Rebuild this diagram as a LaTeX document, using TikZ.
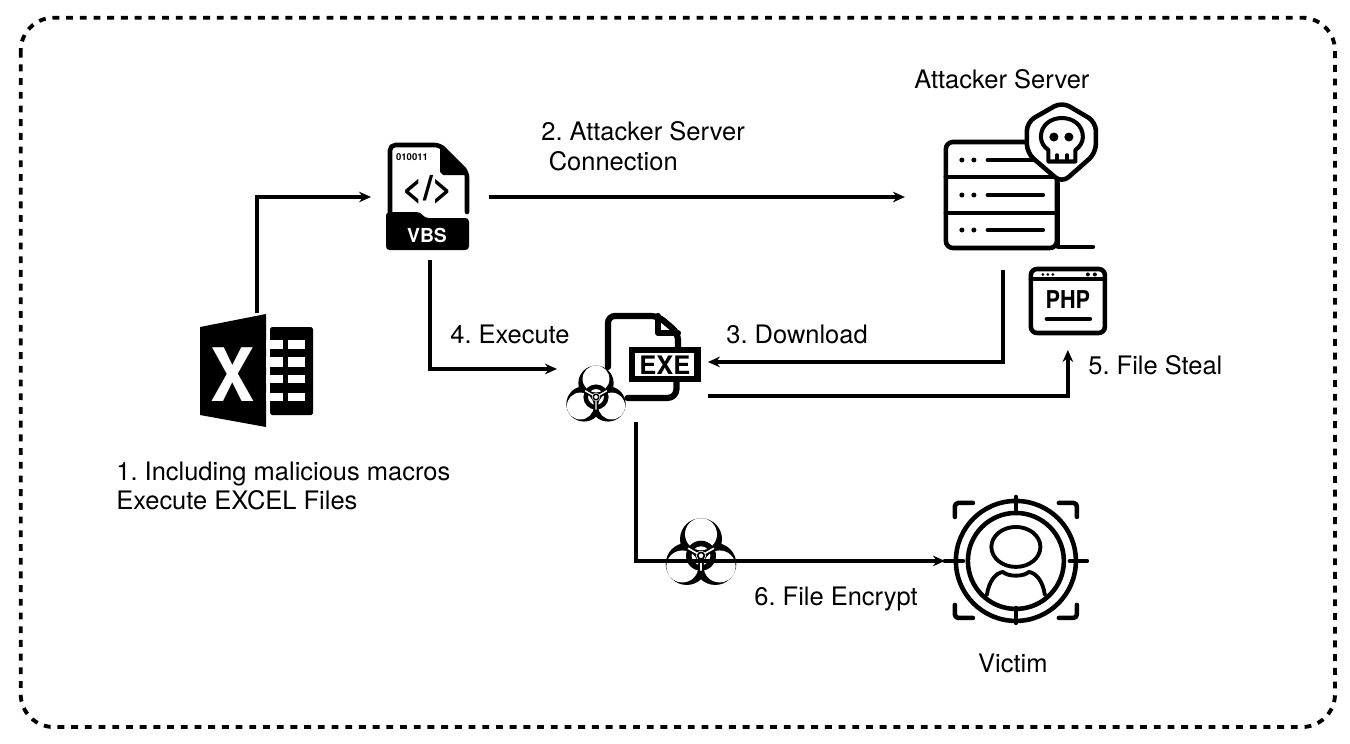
\documentclass[tikz,border=0pt]{standalone}
\usepackage{fontspec}
\setmainfont{TeX Gyre Heros}
\usetikzlibrary{arrows.meta, positioning}
\tikzstyle{iconbox} = [% invisible box around an icon
  rectangle,
  inner sep=0pt,
  outer sep=0pt
  ]
\tikzstyle{caption} = [% step label
  inner sep=0pt,
  align=left,
  font=\fontsize{14.5}{17}\selectfont\frenchspacing
  ]
\tikzstyle{arrow} = [% arrow format
  line width=2pt,
  ->,
  >={Stealth[length=6.8pt, width=6pt]}
  ]
\tikzstyle{frameline} = [% dashed outer frame
  line width=2.2pt,
  dash pattern=on 3.9pt off 3.9pt,
  rounded corners=0.66cm
  ]
\tikzstyle{iconline} = [% outline of the icons
  line width=2.6pt,
  line cap=round,
  line join=round
  ]
\tikzset{
  excelicon/.pic={
    \fill (-57,-43.5) -- (9,-56.5) -- (9,56.5) -- (-57,44.5) -- cycle;
    \fill[rounded corners=1pt] (13,-43.5) rectangle (56,44.5);
    \foreach \ya/\yb in {-30.5/-21.5, -13.5/-3.5, 4.5/12.5, 22.5/30.5} {
      \fill[white] (9,\ya) rectangle (26,\yb);
      \fill[white] (31,\ya) rectangle (48,\yb);
    }
    \node[inner sep=0pt, text=white] (letter) at (-24,4.5)
      {\fontsize{42}{42}\selectfont\bfseries\scalebox{.9}[1]{X}};
  },
  vbsicon/.pic={
    \draw[iconline, rounded corners=3pt] (-39,15) -- (-39,-52) -- (11,-52) -- (38,-25) -- (38,15);
    \fill[line join=round] (11,-52) -- (38,-25) -- (38,-22) -- (14,-22) -- (11,-25) -- cycle;
    \fill[rounded corners=2pt] (-43,53) -- (-43,15) -- (-9,15) -- (-4,21) -- (40,21) -- (40,53) -- cycle;
    \node[inner sep=0pt] (bits) at (-17,-40) {\fontsize{5.4}{6}\selectfont\bfseries 010011};
    \node[inner sep=0pt] (code) at (-1,-7) {\fontsize{20}{20}\selectfont\bfseries </>};
    \node[inner sep=0pt, text=white] (tag) at (-2,38) {\fontsize{11}{12}\selectfont\bfseries VBS};
  },
  servericon/.pic={
    \draw[iconline, rounded corners=4pt] (-57,-55) rectangle (54,51);
    \draw[iconline] (-57,-20) -- (54,-20) (-57,16) -- (54,16);
    \draw[iconline] (55,-14) -- (55,50) -- (90,50);
    \foreach \yr in {-37,-2,33} {
      \fill (-41,\yr) circle (2.5);
      \fill (-29,\yr) circle (2.5);
      \draw[iconline] (-15,\yr) -- (40,\yr);
    }
    \draw[iconline, fill=white, rounded corners=5pt]
      (59,-95) -- (93,-75) -- (93,-44) -- (59,-14) -- (24,-44) -- (24,-75) -- cycle;
    \draw[iconline, line width=2.3pt] (45.5,-35.5) -- (45.5,-47) .. controls (41,-50) and (38,-55) .. (38,-60)
      .. controls (38,-72) and (48,-79) .. (59,-79) .. controls (70,-79) and (80,-72) .. (80,-60)
      .. controls (80,-55) and (77,-50) .. (72.5,-47) -- (72.5,-35.5) -- cycle;
    \draw[iconline, line width=2pt] (54,-42) -- (54,-35.5) (64,-42) -- (64,-35.5);
    \fill (51,-60) circle (4.5);
    \fill (66,-60) circle (4.5);
  },
  phpicon/.pic={
    \draw[iconline, rounded corners=3.5pt] (-37,-32) rectangle (37,32);
    \draw[iconline] (-37,-22) -- (37,-22);
    \foreach \xd in {-25,-20,-15} \fill (\xd,-26.5) circle (1.6);
    \foreach \xd in {20,27} \fill (\xd,-26.5) circle (2);
    \node[inner sep=0pt] (tag) at (0,-1) {\fontsize{14}{15}\selectfont\bfseries\scalebox{.88}[1]{PHP}};
    \draw[iconline] (-21,18) -- (22,18);
  },
  exeicon/.pic={
    \draw[iconline, line width=3.5pt, rounded corners=4pt] (-24.5,-2) -- (-24.5,-53) -- (25.5,-53) -- (45.5,-36) -- (45.5,-19);
    \draw[iconline, line width=3.5pt] (25.5,-53) -- (25.5,-36) -- (45.5,-36);
    \draw[iconline, line width=3.5pt, rounded corners=5pt] (44,10) -- (44,29) -- (-5,29);
    \draw[line width=3.5pt, fill=white] (-0.5,-19) rectangle (65,10);
    \node[inner sep=0pt] (tag) at (32.5,-4) {\fontsize{14.5}{15}\selectfont\bfseries EXE};
  },
  biohazard/.pic={
    \foreach \ang in {-90,30,150} \fill (\ang:16.5) circle (21);
    \foreach \ang in {-90,30,150} \fill[white] (\ang:21.5) circle (16);
    \fill[even odd rule] (0,0) circle (15) circle (9.5);
    \foreach \ang in {90,-30,210} \fill[white] (\ang:3) -- ++(\ang+90:0.8) -- ++(\ang:12) -- ++(\ang-90:1.6) -- ++(\ang:-12) -- cycle;
    \fill[white] (0,0) circle (5);
    \fill[even odd rule] (0,0) circle (4.2) circle (2.4);
  },
  victimicon/.pic={
    \draw[iconline] (0,0) circle (60) (0,0) circle (48);
    \draw[iconline] (0,-64) -- (0,-48) (0,47) -- (0,62) (-71,0) -- (-53,0) (54,0) -- (71,0);
    \draw[iconline, rounded corners=2pt] (-61,-44) -- (-61,-58) -- (-43,-58);
    \draw[iconline, rounded corners=2pt] (61,-44) -- (61,-58) -- (43,-58);
    \draw[iconline, rounded corners=2pt] (-61,44) -- (-61,57) -- (-43,57);
    \draw[iconline, rounded corners=2pt] (61,44) -- (61,57) -- (43,57);
    \draw[iconline, line width=2.2pt] (0,-14) circle [x radius=24.5, y radius=20];
    \draw[iconline, line width=2.2pt] (-29,34) .. controls (-27,20) and (-20,12) .. (-13,11)
      .. controls (-8,16) and (8,16) .. (13,11) .. controls (20,12) and (27,20) .. (29,34);
  }
}

\begin{document}
\begin{tikzpicture}[x=0.02cm, y=-0.02cm]
\useasboundingbox (0,0) rectangle (1350,744);

%%% Frame
\draw[frameline] (20.7,17.7) rectangle (1335,727);

%%% Nodes
\node[iconbox, minimum width=2.28cm, minimum height=2.3cm] (excel) at (257,370.5) {};
\node[iconbox, minimum width=2.36cm, minimum height=2.52cm] (vbs) at (430,197) {};
\node[iconbox, minimum width=3.92cm, minimum height=2.92cm] (server) [right=11.46cm of vbs.center, anchor=center] {};
\node[iconbox, minimum width=3.02cm, minimum height=2.12cm] (exe) [below right=3.44cm and 4.05cm of vbs.center, anchor=center] {};
\node[iconbox, minimum width=1.6cm, minimum height=1.96cm] (php) [below right=2.08cm and 1.3cm of server.center, anchor=center] {};
\node[iconbox, minimum width=2.84cm, minimum height=2.6cm] (victim) [below right=3.84cm and 7.67cm of exe.center, anchor=center] {};
\coordinate (exein) at ([yshift=0.14cm]exe.east);
\coordinate (exeout) at ([yshift=-0.54cm]exe.east);
\coordinate (exebottom) at ([xshift=0.07cm]exe.south);

%%% Icons
\pic (excelpic) at (excel) {excelicon};
\pic (vbspic) at ([xshift=-0.02cm]vbs) {vbsicon};
\pic (serverpic) at (server) {servericon};
\pic (phppic) at (php) {phpicon};
\pic (exepic) at (exe) {exeicon};
\pic[scale=0.84] at (596,397) {biohazard};
\pic at (701,555.7) {biohazard};
\pic (victimpic) at (victim) {victimicon};

%%% Arrows
\draw[arrow] (excel.north) |- (vbs.west);
\draw[arrow] (vbs.east) -- (server.west);
\draw[arrow] (server.south) |- (exein);
\draw[arrow] (vbs.south) |- (exe.west);
\draw[arrow] (exeout) -| (php.south);
\draw[arrow] (exebottom) |- (victim.west);

%%% Labels
\node[caption, anchor=west] (step1) at (116,486) {1. Including malicious macros\\Execute EXCEL Files};
\node[caption, anchor=west] (step2) at (541,146) {2. Attacker Server\\\hspace*{0.15cm}Connection};
\node[caption, anchor=west] (step3) at (726,334) {3. Download};
\node[caption, anchor=west] (step4) at (450,334) {4. Execute};
\node[caption, anchor=west] (step5) at (1088,365) {5. File Steal};
\node[caption, anchor=west] (step6) at (754,599) {6. File Encrypt};
\node[caption] (attacker) [above=0.7cm of server, xshift=-0.02cm] {Attacker Server};
\node[caption] (victimname) [below=0.56cm of victim, xshift=-0.06cm] {Victim};

\end{tikzpicture}
\end{document}
